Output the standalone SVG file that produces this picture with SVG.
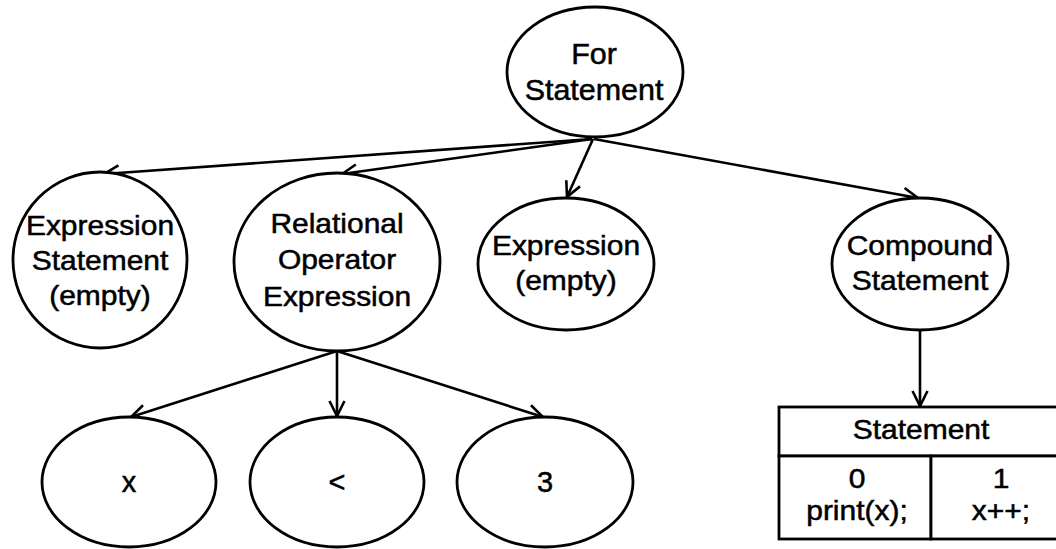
<svg xmlns="http://www.w3.org/2000/svg" width="1056" height="549" viewBox="0 0 1056 549">
  <style>
    .node { fill: #ffffff; stroke: #000000; stroke-width: 2.8; }
    .edge { fill: none; stroke: #000000; stroke-width: 2.6; marker-end: url(#arrow); }
    .label { font-family: "Liberation Sans", Arial, sans-serif; font-size: 27px; fill: #000000; stroke: #000000; stroke-width: 0.5; text-anchor: middle; }
    .big { font-size: 29px; }
    .cell { fill: #ffffff; stroke: #000000; stroke-width: 2.8; }
  </style>
  <defs>
    <marker id="arrow" markerUnits="userSpaceOnUse" markerWidth="20" markerHeight="20" refX="0" refY="0" viewBox="-18 -10 20 20" orient="auto" overflow="visible">
      <path d="M-15,-7.5 L0,0 L-15,7.5" fill="none" stroke="#000000" stroke-width="2.6"/>
    </marker>
  </defs>
  <rect width="1056" height="549" fill="#ffffff"/>

  <!-- parent-to-child connectors -->
  <g id="connectors">
    <line class="edge" x1="592" y1="139" x2="104" y2="174"/>
    <line class="edge" x1="592" y1="139" x2="342" y2="174"/>
    <line class="edge" x1="593" y1="139" x2="567" y2="197"/>
    <line class="edge" x1="594" y1="139" x2="918" y2="198"/>
    <line class="edge" x1="337" y1="351" x2="131" y2="417"/>
    <line class="edge" x1="337" y1="351" x2="337" y2="416"/>
    <line class="edge" x1="337" y1="351" x2="543" y2="417"/>
    <line class="edge" x1="920" y1="330" x2="920" y2="406"/>
  </g>

  <!-- labels are drawn a little wide: translate to the anchor, then stretch horizontally -->
  <g id="for-statement">
    <ellipse class="node" cx="595" cy="72" rx="88" ry="65"/>
    <text class="label big" transform="translate(594 64) scale(1.05 1)">For</text>
    <text class="label big" transform="translate(594 100) scale(1.05 1)">Statement</text>
  </g>

  <g id="expression-statement">
    <ellipse class="node" cx="100" cy="260" rx="87" ry="88"/>
    <text class="label" transform="translate(100 235) scale(1.11 1)">Expression</text>
    <text class="label" transform="translate(100 270) scale(1.11 1)">Statement</text>
    <text class="label" transform="translate(100 305) scale(1.11 1)">(empty)</text>
  </g>

  <g id="relational-operator-expression">
    <ellipse class="node" cx="337" cy="262" rx="103" ry="89"/>
    <text class="label" transform="translate(337 233) scale(1.11 1)">Relational</text>
    <text class="label" transform="translate(337 269) scale(1.11 1)">Operator</text>
    <text class="label" transform="translate(337 306) scale(1.11 1)">Expression</text>
  </g>

  <g id="expression-empty">
    <ellipse class="node" cx="566" cy="264" rx="88" ry="66"/>
    <text class="label" transform="translate(566 255) scale(1.11 1)">Expression</text>
    <text class="label" transform="translate(566 290) scale(1.11 1)">(empty)</text>
  </g>

  <g id="compound-statement">
    <ellipse class="node" cx="920" cy="264" rx="88" ry="66"/>
    <text class="label" transform="translate(920 255) scale(1.11 1)">Compound</text>
    <text class="label" transform="translate(920 290) scale(1.11 1)">Statement</text>
  </g>

  <g id="operand-x">
    <ellipse class="node" cx="129" cy="482" rx="87" ry="65"/>
    <text class="label big" transform="translate(129 492)">x</text>
  </g>

  <g id="operator-lt">
    <ellipse class="node" cx="337" cy="482" rx="87" ry="65"/>
    <text class="label big" transform="translate(337 492)">&lt;</text>
  </g>

  <g id="operand-3">
    <ellipse class="node" cx="545" cy="482" rx="88" ry="65"/>
    <text class="label big" transform="translate(545 492)">3</text>
  </g>

  <g id="statement-list">
    <rect class="cell" x="779" y="407" width="285" height="49"/>
    <rect class="cell" x="779" y="456" width="152" height="83"/>
    <rect class="cell" x="931" y="456" width="133" height="83"/>
    <text class="label" transform="translate(921 439) scale(1.11 1)">Statement</text>
    <text class="label" transform="translate(857 488) scale(1.11 1)">0</text>
    <text class="label" transform="translate(857 520) scale(1.11 1)">print(x);</text>
    <text class="label" transform="translate(1001 488) scale(1.11 1)">1</text>
    <text class="label" transform="translate(1001 520) scale(1.11 1)">x++;</text>
  </g>
</svg>
